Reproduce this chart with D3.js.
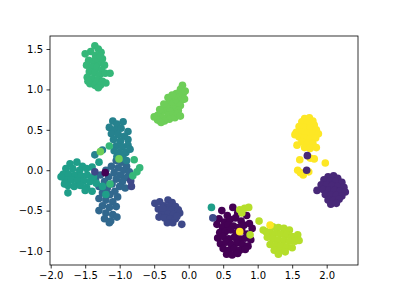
<!DOCTYPE html>
<html><head><meta charset="utf-8">
<script src="https://cdn.jsdelivr.net/npm/d3@7"></script>
<style>body{margin:0;background:#fff}svg{display:block}text{font-family:"DejaVu Sans",sans-serif}</style>
</head><body><svg id="c" width="399" height="299"></svg>
<script>
const xTicks=[-2.0,-1.5,-1.0,-0.5,0.0,0.5,1.0,1.5,2.0];
const yTicks=[-1.0,-0.5,0.0,0.5,1.0,1.5];
const labels=[0,1,2,3,4,5,6,7,8,9];
// points per class: [x,y]
const c0=[[0.48,-0.50],[0.64,-0.46],[0.56,-0.56],[0.71,-0.53],[0.84,-0.56],[0.44,-0.60],[0.52,-0.64],[0.60,-0.61],[0.68,-0.59],[0.76,-0.63],[0.41,-0.67],[0.49,-0.71],[0.57,-0.68],[0.65,-0.69],[0.72,-0.71],[0.80,-0.68],[0.45,-0.77],[0.53,-0.76],[0.61,-0.74],[0.69,-0.78],[0.77,-0.75],[0.85,-0.79],[0.42,-0.84],[0.50,-0.82],[0.58,-0.85],[0.66,-0.83],[0.74,-0.85],[0.82,-0.84],[0.90,-0.86],[0.46,-0.91],[0.54,-0.89],[0.62,-0.92],[0.70,-0.90],[0.78,-0.92],[0.86,-0.94],[0.50,-0.97],[0.58,-0.99],[0.66,-0.97],[0.74,-0.99],[0.82,-0.98],[0.55,-1.04],[0.63,-1.05],[0.71,-1.03],[0.92,-0.72],[0.88,-0.66]];
const c1=[[2.02,-0.08],[2.10,-0.07],[2.16,-0.10],[1.96,-0.12],[2.05,-0.13],[2.13,-0.14],[2.22,-0.15],[1.92,-0.18],[2.00,-0.18],[2.08,-0.19],[2.16,-0.20],[2.25,-0.21],[1.86,-0.25],[1.95,-0.24],[2.03,-0.25],[2.11,-0.25],[2.19,-0.26],[2.27,-0.27],[1.98,-0.30],[2.06,-0.31],[2.14,-0.31],[2.22,-0.32],[2.02,-0.37],[2.10,-0.37],[2.18,-0.36],[2.06,-0.42],[2.14,-0.41]];
const c2=[[-0.49,-0.41],[-0.42,-0.39],[-0.30,-0.37],[-0.24,-0.40],[-0.36,-0.44],[-0.28,-0.45],[-0.19,-0.45],[-0.44,-0.48],[-0.33,-0.49],[-0.25,-0.50],[-0.15,-0.49],[-0.39,-0.53],[-0.30,-0.54],[-0.22,-0.55],[-0.13,-0.53],[-0.43,-0.58],[-0.35,-0.59],[-0.27,-0.60],[-0.19,-0.60],[-0.31,-0.65],[-0.23,-0.65],[-0.10,-0.67],[-0.38,-0.47],[-0.17,-0.57]];
const c3=[[-1.05,0.12],[-0.97,0.10],[-0.90,0.05],[-1.12,0.05],[-1.02,0.03],[-0.94,0.00],[-0.86,-0.02],[-1.20,0.00],[-1.08,-0.03],[-0.99,-0.06],[-0.90,-0.09],[-1.28,-0.06],[-1.16,-0.08],[-1.05,-0.11],[-0.96,-0.14],[-1.35,-0.12],[-1.22,-0.14],[-1.11,-0.17],[-1.00,-0.20],[-0.92,-0.22],[-1.30,-0.20],[-1.18,-0.22],[-1.07,-0.26],[-1.25,-0.28],[-1.14,-0.30],[-1.03,-0.33],[-1.30,-0.35],[-1.20,-0.37],[-1.10,-0.39],[-1.25,-0.44],[-1.15,-0.46],[-1.05,-0.45],[-1.30,-0.50],[-1.20,-0.53],[-1.10,-0.55],[-1.22,-0.60],[-1.13,-0.63],[-1.04,-0.58],[-1.15,-0.65]];
const c4=[[-1.10,0.61],[-0.95,0.60],[-1.04,0.57],[-1.15,0.53],[-1.07,0.50],[-0.98,0.52],[-0.88,0.48],[-1.12,0.45],[-1.02,0.44],[-0.93,0.42],[-1.09,0.38],[-0.99,0.36],[-0.88,0.38],[-1.05,0.30],[-0.96,0.29],[-0.88,0.31],[-1.00,0.22],[-0.91,0.22],[-0.85,0.26],[-1.08,0.24],[-0.95,0.15],[-1.04,0.17],[-1.25,0.25],[-0.90,0.12],[-1.36,0.19]];
const c5=[[-1.72,0.08],[-1.62,0.10],[-1.54,0.05],[-1.78,0.02],[-1.68,0.02],[-1.58,0.00],[-1.48,0.02],[-1.40,0.04],[-1.82,-0.05],[-1.74,-0.05],[-1.65,-0.06],[-1.56,-0.07],[-1.47,-0.06],[-1.38,-0.08],[-1.79,-0.12],[-1.70,-0.12],[-1.61,-0.13],[-1.52,-0.13],[-1.43,-0.14],[-1.34,-0.16],[-1.75,-0.19],[-1.66,-0.20],[-1.57,-0.19],[-1.48,-0.21],[-1.80,-0.17],[-1.75,-0.28],[-1.50,-0.25],[-1.40,-0.26],[-1.25,-0.20],[-1.30,0.10],[-1.20,-0.30],[-1.85,-0.08]];
const c6=[[-1.36,1.54],[-1.31,1.50],[-1.27,1.46],[-1.42,1.47],[-1.50,1.44],[-1.35,1.42],[-1.25,1.38],[-1.45,1.36],[-1.38,1.35],[-1.30,1.33],[-1.22,1.30],[-1.48,1.30],[-1.40,1.28],[-1.33,1.27],[-1.26,1.24],[-1.44,1.22],[-1.36,1.20],[-1.29,1.18],[-1.21,1.20],[-1.14,1.20],[-1.47,1.15],[-1.40,1.13],[-1.32,1.12],[-1.25,1.10],[-1.43,1.07],[-1.36,1.05],[-1.28,1.05],[-1.20,1.08],[-1.31,1.02],[-1.46,1.10],[-1.34,1.38],[-1.28,1.41]];
const c7=[[-0.09,1.05],[-0.12,1.00],[-0.08,0.95],[-0.18,0.95],[-0.15,0.90],[-0.22,0.88],[-0.10,0.87],[-0.28,0.85],[-0.18,0.83],[-0.25,0.80],[-0.12,0.80],[-0.32,0.78],[-0.20,0.76],[-0.35,0.74],[-0.27,0.73],[-0.15,0.74],[-0.40,0.72],[-0.30,0.68],[-0.22,0.69],[-0.45,0.68],[-0.38,0.65],[-0.28,0.63],[-0.45,0.62],[-0.35,0.61],[-0.20,0.65],[-0.42,0.75],[-0.24,0.93],[-0.30,0.90],[-0.16,0.70],[-0.50,0.66],[-0.05,0.98],[-0.40,0.59],[-0.12,0.67],[-0.06,0.88],[-0.36,0.82]];
const c8=[[1.02,-0.63],[1.08,-0.74],[1.22,-0.70],[1.30,-0.71],[1.38,-0.72],[1.46,-0.74],[1.18,-0.77],[1.26,-0.78],[1.34,-0.79],[1.42,-0.80],[1.50,-0.82],[1.58,-0.80],[1.14,-0.83],[1.22,-0.85],[1.30,-0.86],[1.38,-0.87],[1.46,-0.88],[1.54,-0.88],[1.18,-0.92],[1.26,-0.93],[1.34,-0.94],[1.42,-0.95],[1.50,-0.96],[1.24,-0.99],[1.32,-1.00],[1.40,-1.01],[1.30,-1.04],[1.60,-0.87],[1.12,-0.76]];
const c9=[[1.68,0.64],[1.75,0.65],[1.80,0.61],[1.64,0.60],[1.72,0.58],[1.82,0.56],[1.60,0.54],[1.68,0.53],[1.76,0.52],[1.85,0.50],[1.56,0.47],[1.64,0.47],[1.72,0.46],[1.80,0.45],[1.88,0.45],[1.60,0.41],[1.68,0.40],[1.76,0.39],[1.84,0.40],[1.54,0.44],[1.57,0.31],[1.64,0.35],[1.72,0.33],[1.80,0.33],[1.68,0.28],[1.76,0.27],[1.85,0.28],[1.61,0.13],[1.76,0.15],[1.82,0.14],[1.98,0.09],[1.58,0.00],[1.66,-0.06],[1.74,-0.02],[1.62,-0.03]];
// stray points drawn on top: [x,y,label]
const strays=[[1.72,0.18,1],[1.71,0.00,1],[0.33,-0.46,5],[0.35,-0.59,2],[0.74,-0.49,8],[0.81,-0.47,8],[0.87,-0.46,8],[0.77,-0.53,8],[0.89,-0.80,8],[0.74,-0.76,9],[1.18,-0.68,9],[-1.21,-0.03,0],[-1.36,-0.02,2],[-0.84,-0.13,2],[-0.83,-0.20,2],[-1.28,0.23,7],[-1.01,0.14,7],[-1.15,0.30,6],[-0.79,0.13,6],[-0.71,0.03,6],[-0.75,-0.02,6],[-0.81,-0.07,6],[-1.14,-0.17,6]];
const classes=[c0,c1,c2,c3,c4,c5,c6,c7,c8,c9];

const L=50,R=358,T=36,B=265;
const x=d3.scaleLinear().domain([-2.01,2.454]).range([L,R]);
const y=d3.scaleLinear().domain([-1.173,1.661]).range([B,T]);
const color=d3.scaleSequential(d3.interpolateViridis).domain([0,9]);
const svg=d3.select("#c");
const pts=[];
classes.forEach((arr,i)=>arr.forEach(p=>pts.push({x:p[0],y:p[1],c:labels[i]})));
strays.forEach(p=>pts.push({x:p[0],y:p[1],c:p[2]}));
svg.append("g").selectAll("circle").data(pts).join("circle")
 .attr("cx",d=>x(d.x)).attr("cy",d=>y(d.y)).attr("r",3.8).attr("fill",d=>color(d.c));
const fmt=d=>d3.format(".1f")(d).replace("-","\u2212");
const xa=svg.append("g").attr("transform",`translate(0,${B})`).call(d3.axisBottom(x).tickValues(xTicks).tickFormat(fmt).tickSize(3.5).tickPadding(3.5));
const ya=svg.append("g").attr("transform",`translate(${L},0)`).call(d3.axisLeft(y).tickValues(yTicks).tickFormat(fmt).tickSize(3.5).tickPadding(3.5));
[xa,ya].forEach(a=>{a.select(".domain").remove();a.selectAll("line").attr("stroke","#000").attr("stroke-width",0.8);a.selectAll("text").attr("font-size",10).attr("fill","#000").attr("font-family","DejaVu Sans");});
svg.append("rect").attr("x",L).attr("y",T).attr("width",R-L).attr("height",B-T).attr("fill","none").attr("stroke","#000").attr("stroke-width",0.8);
</script></body></html>
